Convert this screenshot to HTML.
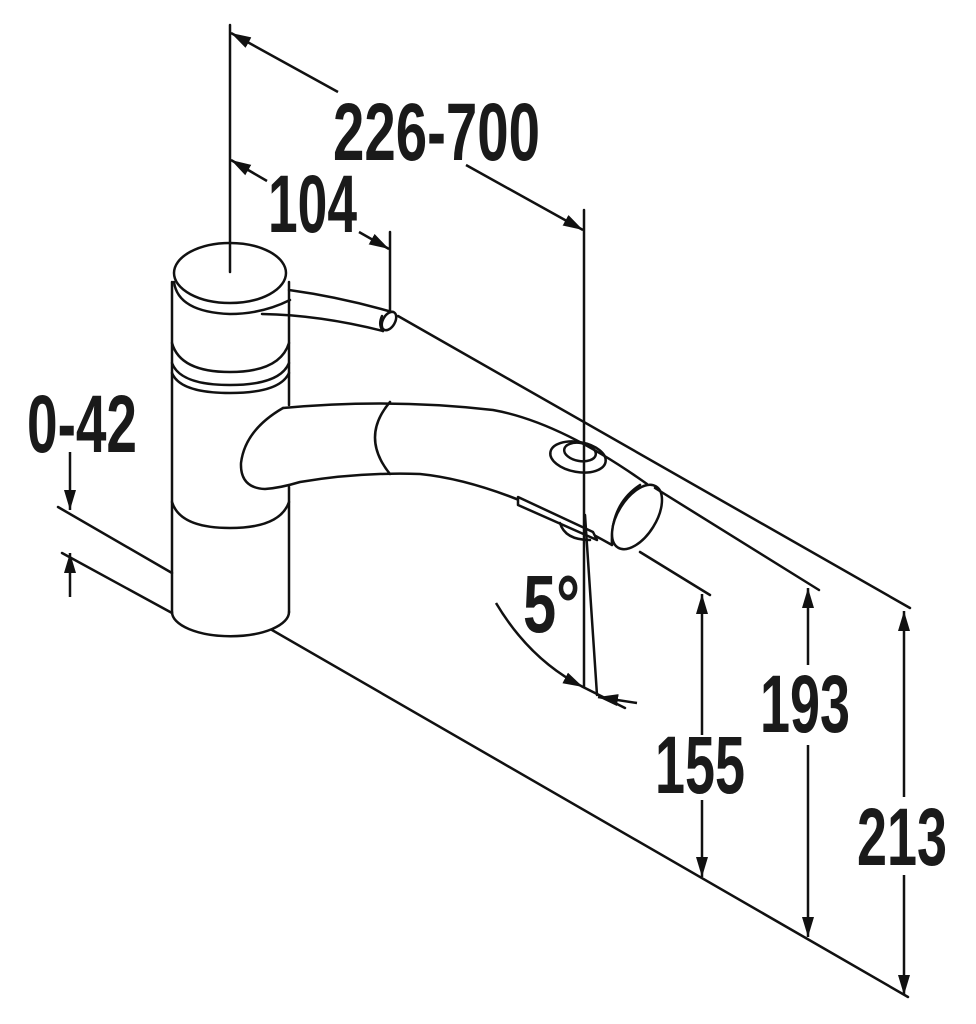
<!DOCTYPE html>
<html><head><meta charset="utf-8"><style>
html,body{margin:0;padding:0;background:#fff;}
svg{display:block}
text{font-family:"Liberation Sans Narrow","Liberation Sans",sans-serif;font-weight:bold;fill:#1a1a1a}
</style></head><body>
<svg width="976" height="1024" viewBox="0 0 976 1024" xmlns="http://www.w3.org/2000/svg">
<defs>
<marker id="a" markerUnits="userSpaceOnUse" markerWidth="22" markerHeight="14" refX="20" refY="6" orient="auto">
<path d="M0,0 L20,6 L0,12 Z" fill="#111"/>
</marker>
</defs>
<g fill="none" stroke="#111" stroke-width="2.5" stroke-linejoin="round" stroke-linecap="round">
<!-- base lines -->
<line x1="272" y1="630" x2="908" y2="997"/>
<line x1="58" y1="507" x2="172" y2="573"/>
<line x1="62" y1="553" x2="172" y2="613"/>
<!-- body -->
<line x1="172" y1="282" x2="172" y2="612"/>
<line x1="289" y1="282" x2="289" y2="405"/>
<line x1="289" y1="487" x2="289" y2="612"/>
<path d="M172,612 A58,24 0 0 0 289,612"/>
<ellipse cx="230" cy="273" rx="56" ry="30" fill="#fff"/>
<path d="M174,282 Q178,312 230,314 Q262,314 290,300"/>
<path d="M172,343 Q180,372 230,372 Q280,372 289,343"/>
<path d="M172,363 Q180,385 230,385 Q280,385 289,363"/>
<path d="M172,373 Q180,393 230,393 Q280,393 289,373"/>
<path d="M172,502 Q180,528 230,528 Q280,528 289,502"/>
<!-- lever -->
<path d="M289,290 Q340,297 392,312"/>
<path d="M262,314 Q320,315 383,331"/>
<ellipse cx="389" cy="321" rx="6" ry="10" transform="rotate(30 389 321)" fill="#fff"/>
<path d="M382,316 Q378,325 383,331"/>
<!-- spout -->
<path d="M283,408 Q390,398 493,410 Q560,422 647,484"/>
<path d="M283,408 Q245,430 241,463 Q240,488 265,489 Q280,488 300,482 Q360,472 420,474 Q500,482 612,545"/>
<path d="M390,402 Q360,437 390,474"/>
<!-- button -->
<ellipse cx="578" cy="457" rx="28" ry="15" transform="rotate(10 578 457)"/>
<ellipse cx="580" cy="452" rx="16" ry="9" transform="rotate(10 580 452)"/>
<!-- wedge -->
<path d="M518,497 L518,505 L597,540 L593,532 Z" fill="#fff"/>
<path d="M560,523 Q565,540 590,540"/>
<!-- nozzle -->
<path d="M612,545 Q610,505 640,485"/>
<path d="M616,546 Q614,507 644,486"/>
<ellipse cx="637" cy="517" rx="36" ry="19" transform="rotate(-58 637 517)" fill="#fff"/>
<!-- long lines -->
<line x1="398" y1="316" x2="910" y2="608"/>
<line x1="655" y1="488" x2="819" y2="590"/>
<line x1="640" y1="552" x2="710" y2="595"/>
<!-- verticals -->
<line x1="230" y1="25" x2="230" y2="272"/>
<line x1="390" y1="232" x2="390" y2="312"/>
<line x1="584" y1="210" x2="584" y2="687"/>
<line x1="585" y1="515" x2="597" y2="695"/>
<line x1="583" y1="687" x2="625" y2="708"/>
</g>
<g stroke="#111" stroke-width="2.5" fill="none">
<line x1="338" y1="92" x2="231" y2="33" marker-end="url(#a)"/>
<line x1="466" y1="165" x2="583" y2="230" marker-end="url(#a)"/>
<line x1="267" y1="181" x2="231" y2="160" marker-end="url(#a)"/>
<line x1="359" y1="232" x2="389" y2="249" marker-end="url(#a)"/>
<line x1="70" y1="452" x2="70" y2="510" marker-end="url(#a)"/>
<line x1="70" y1="597" x2="70" y2="553" marker-end="url(#a)"/>
<line x1="702" y1="735" x2="702" y2="594" marker-end="url(#a)"/>
<line x1="702" y1="800" x2="702" y2="877" marker-end="url(#a)"/>
<line x1="808" y1="665" x2="808" y2="588" marker-end="url(#a)"/>
<line x1="808" y1="745" x2="808" y2="937" marker-end="url(#a)"/>
<line x1="904" y1="797" x2="904" y2="611" marker-end="url(#a)"/>
<line x1="904" y1="875" x2="904" y2="995" marker-end="url(#a)"/>
<path d="M496,603 Q530,660 583,687" marker-end="url(#a)"/>
<line x1="637" y1="703" x2="598" y2="697" marker-end="url(#a)"/>
</g>
<g font-size="82">
<text x="333" y="160" textLength="207" lengthAdjust="spacingAndGlyphs">226-700</text>
<text x="268" y="232" textLength="89" lengthAdjust="spacingAndGlyphs">104</text>
<text x="27" y="452" textLength="110" lengthAdjust="spacingAndGlyphs">0-42</text>
<text x="655" y="793" textLength="90" lengthAdjust="spacingAndGlyphs">155</text>
<text x="760" y="732" textLength="90" lengthAdjust="spacingAndGlyphs">193</text>
<text x="857" y="865" textLength="90" lengthAdjust="spacingAndGlyphs">213</text>
<text x="523" y="632" textLength="57" lengthAdjust="spacingAndGlyphs">5°</text>
</g>
</svg>
</body></html>
